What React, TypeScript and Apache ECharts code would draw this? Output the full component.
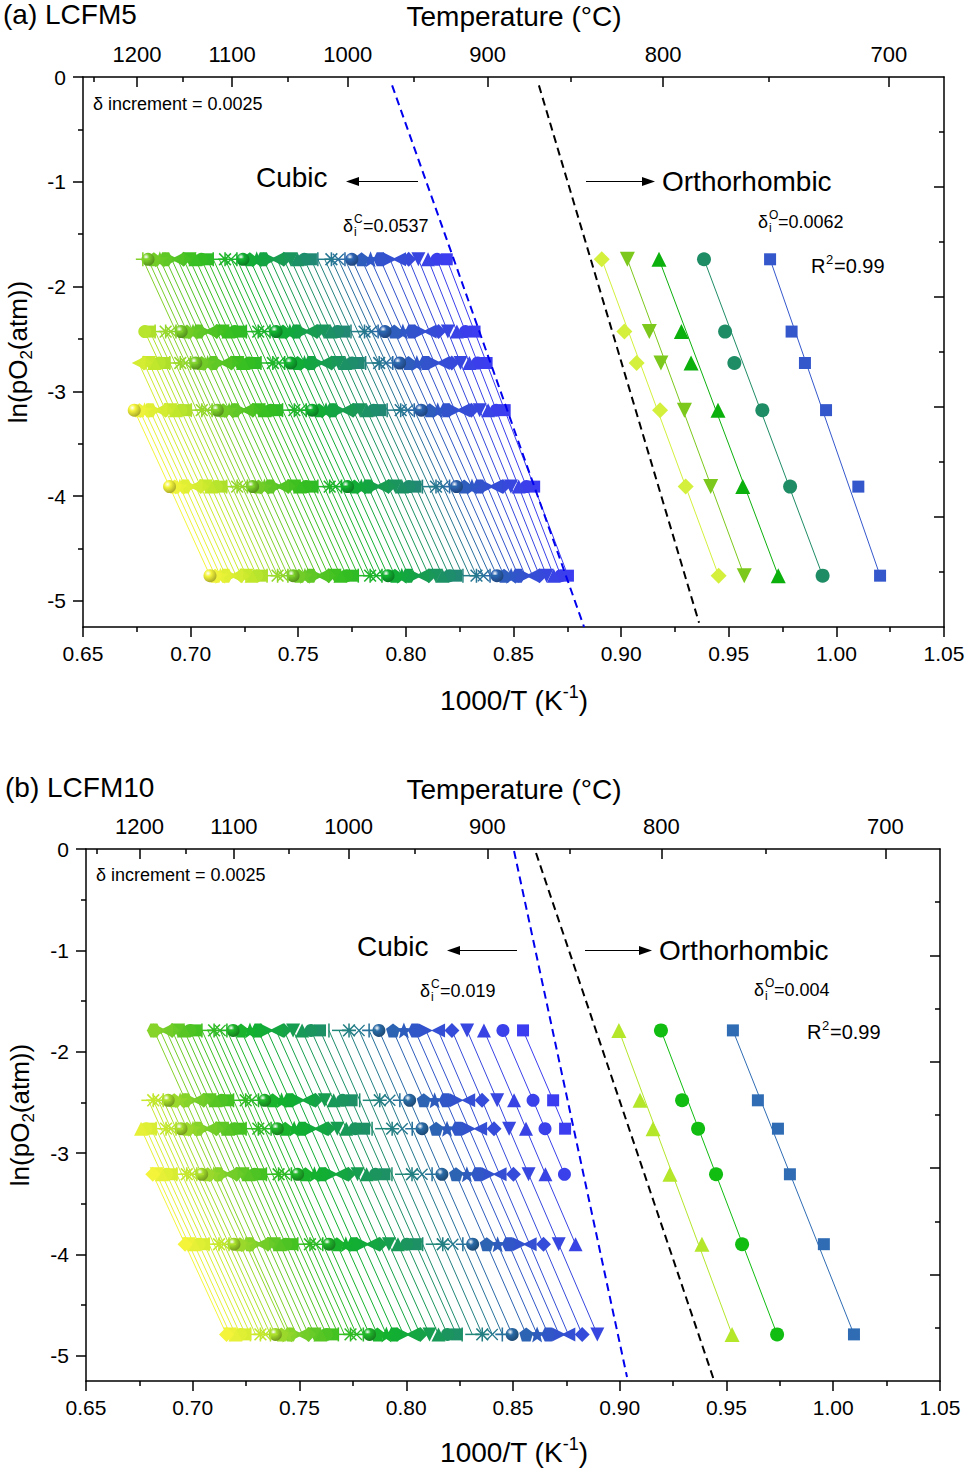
import React, { useEffect, useRef } from 'react';
import * as echarts from 'echarts';

const FONT = '"Liberation Sans", Arial, Helvetica, sans-serif';

// ---------------- Panel (a) LCFM5 ----------------
const lnPO2_A = [-1.74, -2.43, -2.73, -3.18, -3.91, -4.76];
// x (1000/T) of each iso-delta line at each pO2 level (index = line, right->left, delta step 0.0025)
const cubicA_r1 = [0.8190,0.8145,0.8103,0.8058,0.8013,0.7968,0.7926,0.7881,0.7836,0.7794,0.7749,0.7717,0.7686,0.7654,0.7623,0.7591,0.7559,0.7528,0.7496,0.7465,0.7433,0.7401,0.7370,0.7338,0.7307,0.7275,0.7243,0.7215,0.7188,0.7160,0.7133,0.7105,0.7077,0.7050,0.7022,0.6995,0.6967,0.6939,0.6912,0.6884,0.6857,0.6829,0.6802,0.6778];
const cubicA_r2 = [0.8319,0.8277,0.8237,0.8195,0.8152,0.8110,0.8070,0.8028,0.7986,0.7946,0.7903,0.7871,0.7840,0.7808,0.7777,0.7745,0.7713,0.7682,0.7650,0.7619,0.7587,0.7555,0.7524,0.7492,0.7461,0.7429,0.7397,0.7369,0.7342,0.7314,0.7287,0.7259,0.7231,0.7204,0.7176,0.7149,0.7121,0.7093,0.7066,0.7038,0.7011,0.6983,0.6956,0.6932,0.6908,0.6884,0.6860,0.6835,0.6811,0.6787];
const cubicA_r3 = [0.8375,0.8334,0.8295,0.8254,0.8213,0.8172,0.8133,0.8092,0.8051,0.8012,0.7971,0.7939,0.7908,0.7876,0.7845,0.7813,0.7781,0.7750,0.7718,0.7687,0.7655,0.7623,0.7592,0.7560,0.7529,0.7497,0.7465,0.7437,0.7410,0.7382,0.7355,0.7327,0.7299,0.7272,0.7244,0.7217,0.7189,0.7161,0.7134,0.7106,0.7079,0.7051,0.7024,0.7000,0.6976,0.6952,0.6928,0.6903,0.6879,0.6855,0.6831,0.6807,0.6783,0.6759];
const cubicA_r4 = [0.8459,0.8420,0.8382,0.8343,0.8304,0.8265,0.8227,0.8188,0.8148,0.8111,0.8071,0.8039,0.8008,0.7976,0.7945,0.7913,0.7881,0.7850,0.7818,0.7787,0.7755,0.7723,0.7692,0.7660,0.7629,0.7597,0.7565,0.7537,0.7510,0.7482,0.7455,0.7427,0.7399,0.7372,0.7344,0.7317,0.7289,0.7261,0.7234,0.7206,0.7179,0.7151,0.7124,0.7100,0.7076,0.7052,0.7028,0.7003,0.6979,0.6955,0.6931,0.6907,0.6883,0.6859,0.6835,0.6811,0.6786,0.6762,0.6738];
const cubicA_r5 = [0.8596,0.8560,0.8524,0.8488,0.8451,0.8415,0.8379,0.8343,0.8307,0.8271,0.8235,0.8203,0.8172,0.8140,0.8109,0.8077,0.8045,0.8014,0.7982,0.7951,0.7919,0.7887,0.7856,0.7824,0.7793,0.7761,0.7729,0.7701,0.7674,0.7646,0.7619,0.7591,0.7563,0.7536,0.7508,0.7481,0.7453,0.7425,0.7398,0.7370,0.7343,0.7315,0.7288,0.7264,0.7240,0.7216,0.7192,0.7167,0.7143,0.7119,0.7095,0.7071,0.7047,0.7023,0.6999,0.6975,0.6950,0.6926,0.6902];
const cubicA_r6 = [0.8753,0.8720,0.8687,0.8654,0.8621,0.8588,0.8555,0.8522,0.8489,0.8456,0.8423,0.8391,0.8360,0.8328,0.8297,0.8265,0.8233,0.8202,0.8170,0.8139,0.8107,0.8075,0.8044,0.8012,0.7981,0.7949,0.7917,0.7889,0.7862,0.7834,0.7807,0.7779,0.7751,0.7724,0.7696,0.7669,0.7641,0.7613,0.7586,0.7558,0.7531,0.7503,0.7476,0.7452,0.7428,0.7404,0.7380,0.7355,0.7331,0.7307,0.7283,0.7259,0.7235,0.7211,0.7187,0.7163,0.7138,0.7114,0.7090];
const orthoA_diamond = [0.8910, 0.9015, 0.9072, 0.9181, 0.9300, 0.9453];
const orthoA_down = [0.9029, 0.9131, 0.9185, 0.9294, 0.9416, 0.9572];
const orthoA_up = [0.9176, 0.9280, 0.9325, 0.9450, 0.9565, 0.9730];
const orthoA_circle = [0.9385, 0.9483, 0.9526, 0.9656, 0.9785, 0.9936];
const orthoA_square = [0.9692, 0.9792, 0.9854, 0.9952, 1.0102, 1.0203];
const boundaryA_cubic = [[0.7936, -0.08], [0.8828, -5.25]];
const boundaryA_ortho = [[0.8618, -0.08], [0.9362, -5.21]];

// ---------------- Panel (b) LCFM10 ----------------
const lnPO2_B = [-1.79, -2.48, -2.76, -3.21, -3.90, -4.79];
const cubicB_r1 = [0.8547,0.8453,0.8364,0.8285,0.8214,0.8149,0.8092,0.8041,0.7989,0.7938,0.7872,0.7826,0.7779,0.7732,0.7685,0.7638,0.7596,0.7554,0.7512,0.7470,0.7427,0.7390,0.7348,0.7306,0.7268,0.7226,0.7189,0.7160,0.7128,0.7100,0.7071,0.7043,0.7015,0.6987,0.6959,0.6931,0.6903,0.6875,0.6847,0.6818];
const cubicB_r2 = [0.8688,0.8594,0.8505,0.8426,0.8355,0.8290,0.8236,0.8185,0.8133,0.8082,0.8016,0.7970,0.7923,0.7876,0.7829,0.7782,0.7744,0.7702,0.7660,0.7618,0.7575,0.7538,0.7496,0.7454,0.7416,0.7374,0.7337,0.7308,0.7276,0.7248,0.7219,0.7191,0.7163,0.7135,0.7107,0.7079,0.7051,0.7023,0.6995,0.6966,0.6941,0.6913,0.6885,0.6862,0.6838,0.6815,0.6792];
const cubicB_r3 = [0.8744,0.8650,0.8561,0.8482,0.8411,0.8346,0.8294,0.8243,0.8191,0.8140,0.8074,0.8028,0.7981,0.7934,0.7887,0.7840,0.7803,0.7761,0.7719,0.7677,0.7634,0.7597,0.7555,0.7513,0.7475,0.7433,0.7396,0.7367,0.7335,0.7307,0.7278,0.7250,0.7222,0.7194,0.7166,0.7138,0.7110,0.7082,0.7054,0.7025,0.7001,0.6973,0.6945,0.6922,0.6898,0.6875,0.6852,0.6828,0.6805,0.6781,0.6758];
const cubicB_r4 = [null,0.8741,0.8652,0.8573,0.8502,0.8437,0.8387,0.8336,0.8284,0.8233,0.8167,0.8121,0.8074,0.8027,0.7980,0.7933,0.7898,0.7856,0.7814,0.7772,0.7729,0.7692,0.7650,0.7608,0.7570,0.7528,0.7491,0.7462,0.7430,0.7402,0.7373,0.7345,0.7317,0.7289,0.7261,0.7233,0.7205,0.7177,0.7149,0.7120,0.7098,0.7070,0.7042,0.7019,0.6995,0.6972,0.6949,0.6925,0.6902,0.6878,0.6855,0.6831,0.6813];
const cubicB_r5 = [null,null,0.8793,0.8714,0.8643,0.8578,0.8531,0.8480,0.8428,0.8377,0.8311,0.8265,0.8218,0.8171,0.8124,0.8077,0.8045,0.8003,0.7961,0.7919,0.7876,0.7839,0.7797,0.7755,0.7717,0.7675,0.7638,0.7609,0.7577,0.7549,0.7520,0.7492,0.7464,0.7436,0.7408,0.7380,0.7352,0.7324,0.7296,0.7267,0.7249,0.7221,0.7193,0.7170,0.7146,0.7123,0.7100,0.7076,0.7053,0.7029,0.7006,0.6982,0.6964];
const cubicB_r6 = [null,null,null,0.8895,0.8824,0.8759,0.8716,0.8665,0.8613,0.8562,0.8496,0.8450,0.8403,0.8356,0.8309,0.8262,0.8235,0.8193,0.8151,0.8109,0.8066,0.8029,0.7987,0.7945,0.7907,0.7865,0.7828,0.7799,0.7767,0.7739,0.7710,0.7682,0.7654,0.7626,0.7598,0.7570,0.7542,0.7514,0.7486,0.7457,0.7443,0.7415,0.7387,0.7364,0.7340,0.7317,0.7294,0.7270,0.7247,0.7223,0.7200,0.7176,0.7158];
const orthoB_up = [0.8996, 0.9095, 0.9156, 0.9235, 0.9385, 0.9526];
const orthoB_circle = [0.9193, 0.9292, 0.9367, 0.9451, 0.9573, 0.9737];
const orthoB_square = [0.9530, 0.9647, 0.9741, 0.9797, 0.9956, 1.0097];
const boundaryB_cubic = [[0.8505, -0.02], [0.9034, -5.21]];
const boundaryB_ortho = [[0.8608, -0.04], [0.9441, -5.24]];

// ---------------- axes ----------------
const tempLabels = ['1200', '1100', '1000', '900', '800', '700'];
const tempMajorPos = [0.6751, 0.7193, 0.7730, 0.8380, 0.9195, 1.0244];
const tempMinorPos = [0.6552, 0.6965, 0.7450, 0.8038, 0.8765, 0.9686];
const yMajor = [0, -1, -2, -3, -4, -5];
const yMinor = [-0.5, -1.5, -2.5, -3.5, -4.5];
const yRightMajor = [-1.05, -2.1, -3.15, -4.2];
const yRightMinor = [-0.525, -1.575, -2.625, -3.675, -4.725];

const STOPS: [number, string][] = [
  [0, '#3c3cf0'], [0.14, '#3057c6'], [0.28, '#1f8a70'], [0.45, '#10b030'],
  [0.6, '#3cc020'], [0.73, '#7ccf2a'], [0.87, '#c4e82c'], [1, '#f4f43a'],
];
function hexToRgb(h: string) {
  const n = parseInt(h.slice(1), 16);
  return [(n >> 16) & 255, (n >> 8) & 255, n & 255];
}
function toHex(r: number[]) {
  return '#' + r.map((v) => Math.round(v).toString(16).padStart(2, '0')).join('');
}
function lerpColor(t: number) {
  for (let k = 0; k < STOPS.length - 1; k++) {
    const [t0, c0] = STOPS[k];
    const [t1, c1] = STOPS[k + 1];
    if (t <= t1) {
      const f = (t - t0) / (t1 - t0);
      const a = hexToRgb(c0), b = hexToRgb(c1);
      return toHex([a[0] + (b[0] - a[0]) * f, a[1] + (b[1] - a[1]) * f, a[2] + (b[2] - a[2]) * f]);
    }
  }
  return STOPS[STOPS.length - 1][1];
}
function darken(c: string, f: number) {
  const a = hexToRgb(c);
  return toHex(a.map((v) => v * f));
}

const P_DOWN = 'path://M0,0L10,0L5,10Z';
const P_LEFT = 'path://M0,5L10,0L10,10Z';
const P_RIGHT = 'path://M10,5L0,0L0,10Z';
const P_HEX = 'path://M2.5,0.7L7.5,0.7L10,5L7.5,9.3L2.5,9.3L0,5Z';
const P_STAR = 'path://M5,0L6.29,3.22L9.76,3.45L7.09,5.68L7.94,9.05L5,7.2L2.06,9.05L2.91,5.68L0.24,3.45L3.71,3.22Z';
const P_PENT = 'path://M5,0L10,3.6L8.1,9.5L1.9,9.5L0,3.6Z';
const P_PLUS = 'path://M4.45,0H5.55V4.45H10V5.55H5.55V10H4.45V5.55H0V4.45H4.45Z';
const P_CROSS = 'path://M0.8,0L5,4.2L9.2,0L10,0.8L5.8,5L10,9.2L9.2,10L5,5.8L0.8,10L0,9.2L4.2,5L0,0.8Z';
const P_AST = 'path://M4.45,0H5.55V10H4.45Z M0,4.45H10V5.55H0Z M1.2,0.4L9.6,8.8L8.8,9.6L0.4,1.2Z M8.8,0.4L9.6,1.2L1.2,9.6L0.4,8.8Z';
const P_HBAR = 'path://M0,0H10V1H0Z';
const P_VBAR = 'path://M0,0H1V10H0Z';

const SYM: { symbol: string; size: number | number[]; sphere?: boolean }[] = [
  { symbol: 'rect', size: 12 },
  { symbol: 'circle', size: 13 },
  { symbol: 'triangle', size: 14 },
  { symbol: P_DOWN, size: 14 },
  { symbol: 'diamond', size: 15 },
  { symbol: P_LEFT, size: 14 },
  { symbol: P_RIGHT, size: 14 },
  { symbol: P_HEX, size: 14 },
  { symbol: P_STAR, size: 16 },
  { symbol: P_PENT, size: 14 },
  { symbol: 'circle', size: 13, sphere: true },
  { symbol: P_PLUS, size: 14 },
  { symbol: P_CROSS, size: 12 },
  { symbol: P_AST, size: 14 },
  { symbol: P_HBAR, size: [14, 1.5] },
  { symbol: P_VBAR, size: [1.5, 14] },
];

function cubicSeries(rows: (number | null)[][], lnp: number[], xi: number, yi: number) {
  const n = Math.max(...rows.map((r) => r.length));
  const out: any[] = [];
  for (let i = 0; i < n; i++) {
    const pts: number[][] = [];
    rows.forEach((r, k) => {
      const v = r[i];
      if (v !== null && v !== undefined) pts.push([v, lnp[k]]);
    });
    const c = lerpColor(i / (n - 1));
    const s = SYM[i % 16];
    const fill = s.sphere
      ? { type: 'radial', x: 0.35, y: 0.32, r: 0.7, colorStops: [{ offset: 0, color: '#ffffff' }, { offset: 0.35, color: c }, { offset: 1, color: darken(c, 0.7) }] }
      : c;
    out.push({
      type: 'line', xAxisIndex: xi, yAxisIndex: yi, data: pts,
      symbol: s.symbol, symbolSize: s.size, showSymbol: true, silent: true,
      lineStyle: { color: c, width: 1 }, itemStyle: { color: fill }, z: 3,
    });
  }
  return out;
}

function orthoSeries(xs: number[], lnp: number[], xi: number, yi: number, symbol: string, size: number, color: string) {
  const pts = xs.map((v, k) => [v, lnp[k]]);
  return [
    {
      type: 'line', xAxisIndex: xi, yAxisIndex: yi, silent: true,
      data: [pts[0], pts[pts.length - 1]], symbol: 'none',
      lineStyle: { color, width: 1 }, z: 4,
    },
    {
      type: 'scatter', xAxisIndex: xi, yAxisIndex: yi, silent: true,
      data: pts, symbol, symbolSize: size, itemStyle: { color, opacity: 1 }, z: 4,
    },
  ];
}

function dashed(pts: number[][], xi: number, yi: number, color: string) {
  return {
    type: 'line', xAxisIndex: xi, yAxisIndex: yi, silent: true, data: pts, symbol: 'none',
    lineStyle: { color, width: 2, type: [8, 5] }, z: 5,
  };
}

const AX = { color: '#000', width: 1.5 };

function xAxes(g: number) {
  return [
    {
      gridIndex: g, type: 'value', position: 'bottom', min: 0.65, max: 1.05, interval: 0.05,
      axisLine: { show: true, onZero: false, lineStyle: AX },
      axisTick: { show: true, inside: false, length: 10, lineStyle: AX },
      minorTick: { show: true, splitNumber: 2, length: 5, lineStyle: AX },
      axisLabel: { show: true, margin: 16, fontSize: 21, color: '#000', fontFamily: FONT, formatter: (v: number) => v.toFixed(2) },
      splitLine: { show: false }, minorSplitLine: { show: false },
    },
    {
      gridIndex: g, type: 'value', position: 'top', min: 0.65, max: 1.05,
      axisLine: { show: true, onZero: false, lineStyle: AX },
      axisTick: { show: true, inside: true, length: 10, lineStyle: AX, customValues: tempMajorPos },
      axisLabel: {
        show: true, margin: 12, fontSize: 22, color: '#000', fontFamily: FONT, customValues: tempMajorPos,
        formatter: (v: number) => {
          let best = 0;
          tempMajorPos.forEach((p, k) => { if (Math.abs(p - v) < Math.abs(tempMajorPos[best] - v)) best = k; });
          return tempLabels[best];
        },
      },
      splitLine: { show: false },
    },
    {
      gridIndex: g, type: 'value', position: 'top', min: 0.65, max: 1.05,
      axisLine: { show: false, onZero: false },
      axisTick: { show: true, inside: true, length: 5, lineStyle: AX, customValues: tempMinorPos },
      axisLabel: { show: false },
      splitLine: { show: false },
    },
  ];
}

function yAxes(g: number) {
  return [
    {
      gridIndex: g, type: 'value', position: 'left', min: -5.25, max: 0,
      axisLine: { show: true, onZero: false, lineStyle: AX },
      axisTick: { show: true, inside: false, length: 10, lineStyle: AX, customValues: yMajor },
      axisLabel: { show: true, margin: 17, fontSize: 21, color: '#000', fontFamily: FONT, customValues: yMajor, formatter: (v: number) => String(v) },
      splitLine: { show: false },
    },
    {
      gridIndex: g, type: 'value', position: 'left', min: -5.25, max: 0,
      axisLine: { show: false, onZero: false },
      axisTick: { show: true, inside: false, length: 5, lineStyle: AX, customValues: yMinor },
      axisLabel: { show: false }, splitLine: { show: false },
    },
    {
      gridIndex: g, type: 'value', position: 'right', min: -5.25, max: 0,
      axisLine: { show: true, onZero: false, lineStyle: AX },
      axisTick: { show: true, inside: true, length: 10, lineStyle: AX, customValues: yRightMajor },
      axisLabel: { show: false }, splitLine: { show: false },
    },
    {
      gridIndex: g, type: 'value', position: 'right', min: -5.25, max: 0,
      axisLine: { show: false, onZero: false },
      axisTick: { show: true, inside: true, length: 5, lineStyle: AX, customValues: yRightMinor },
      axisLabel: { show: false }, splitLine: { show: false },
    },
  ];
}

function txt(x: number, y: number, text: string, size: number, align = 'left') {
  return {
    type: 'text', x, y, z: 100, silent: true,
    style: { text, fill: '#000', fontSize: size, fontFamily: FONT, align, verticalAlign: 'middle', textAlign: align, textVerticalAlign: 'middle' },
  };
}
function richTxt(x: number, y: number, text: string, rich: any, rotation = 0) {
  return {
    type: 'text', x, y, rotation, z: 100, silent: true,
    style: { text, rich, fill: '#000', fontFamily: FONT, align: 'center', verticalAlign: 'middle', textAlign: 'center', textVerticalAlign: 'middle' },
  };
}
function arrow(x1: number, x2: number, y: number) {
  const dir = x2 > x1 ? 1 : -1;
  const base = x2 - dir * 13;
  return [
    { type: 'line', z: 100, silent: true, shape: { x1, y1: y, x2: base, y2: y }, style: { stroke: '#000', lineWidth: 1.2 } },
    { type: 'polygon', z: 100, silent: true, shape: { points: [[x2, y], [base, y - 4.5], [base, y + 4.5]] }, style: { fill: '#000' } },
  ];
}
function deltaLabel(x: number, y: number, sup: string, val: string) {
  return [
    txt(x, y, 'δ', 18),
    txt(x + 11, y - 7, sup, 12),
    txt(x + 11, y + 6, 'i', 12),
    txt(x + 20, y, val, 18),
  ];
}
function r2Label(x: number, y: number) {
  return [txt(x, y, 'R', 20), txt(x + 15, y - 7, '2', 13), txt(x + 23, y, '=0.99', 20)];
}
const yRich = {
  a: { fontSize: 26, lineHeight: 34, fontFamily: FONT, fill: '#000' },
  s: { fontSize: 17, lineHeight: 18, verticalAlign: 'bottom', fontFamily: FONT, fill: '#000' },
};
const xRich = {
  a: { fontSize: 28, lineHeight: 34, fontFamily: FONT, fill: '#000' },
  p: { fontSize: 18, lineHeight: 18, verticalAlign: 'top', fontFamily: FONT, fill: '#000' },
};

export default function App() {
  const ref = useRef<HTMLDivElement>(null);
  useEffect(() => {
    document.body.style.margin = '0';
    if (!ref.current) return;
    const chart = echarts.init(ref.current, undefined, { renderer: 'svg' });
    const series: any[] = [
      ...cubicSeries([cubicA_r1, cubicA_r2, cubicA_r3, cubicA_r4, cubicA_r5, cubicA_r6], lnPO2_A, 0, 0),
      ...orthoSeries(orthoA_diamond, lnPO2_A, 0, 0, 'diamond', 16, '#d4f03c'),
      ...orthoSeries(orthoA_down, lnPO2_A, 0, 0, P_DOWN, 15, '#7cc81c'),
      ...orthoSeries(orthoA_up, lnPO2_A, 0, 0, 'triangle', 15, '#0cb00c'),
      ...orthoSeries(orthoA_circle, lnPO2_A, 0, 0, 'circle', 14, '#1e8c64'),
      ...orthoSeries(orthoA_square, lnPO2_A, 0, 0, 'rect', 12, '#3457cc'),
      dashed(boundaryA_cubic, 0, 0, '#0000ee'),
      dashed(boundaryA_ortho, 0, 0, '#000000'),
      ...cubicSeries([cubicB_r1, cubicB_r2, cubicB_r3, cubicB_r4, cubicB_r5, cubicB_r6], lnPO2_B, 3, 4),
      ...orthoSeries(orthoB_up, lnPO2_B, 3, 4, 'triangle', 15, '#b4e62a'),
      ...orthoSeries(orthoB_circle, lnPO2_B, 3, 4, 'circle', 14, '#10bd10'),
      ...orthoSeries(orthoB_square, lnPO2_B, 3, 4, 'rect', 12, '#2f6cb4'),
      dashed(boundaryB_cubic, 3, 4, '#0000ee'),
      dashed(boundaryB_ortho, 3, 4, '#000000'),
    ];
    const graphic: any[] = [
      txt(3, 14, '(a) LCFM5', 28),
      txt(514, 16, 'Temperature (°C)', 28, 'center'),
      txt(93, 104, 'δ increment = 0.0025', 18),
      txt(256, 177, 'Cubic', 28),
      txt(662, 181, 'Orthorhombic', 28),
      ...arrow(418, 346, 181.5),
      ...arrow(586, 655, 181.5),
      ...deltaLabel(343, 226, 'C', '=0.0537'),
      ...deltaLabel(758, 222, 'O', '=0.0062'),
      ...r2Label(811, 266),
      richTxt(18, 352, '{a|ln(pO}{s|2}{a|(atm))}', yRich, Math.PI / 2),
      richTxt(514, 700, '{a|1000/T (K}{p|-1}{a|)}', xRich),

      txt(5, 787, '(b) LCFM10', 28),
      txt(514, 789, 'Temperature (°C)', 28, 'center'),
      txt(96, 875, 'δ increment = 0.0025', 18),
      txt(357, 946, 'Cubic', 28),
      txt(659, 950, 'Orthorhombic', 28),
      ...arrow(517, 447, 950.5),
      ...arrow(585, 652, 950.5),
      ...deltaLabel(420, 991, 'C', '=0.019'),
      ...deltaLabel(754, 990, 'O', '=0.004'),
      ...r2Label(807, 1032),
      richTxt(20, 1115, '{a|ln(pO}{s|2}{a|(atm))}', yRich, Math.PI / 2),
      richTxt(514, 1452, '{a|1000/T (K}{p|-1}{a|)}', xRich),
    ];
    chart.setOption({
      animation: false,
      backgroundColor: '#ffffff',
      textStyle: { fontFamily: FONT },
      grid: [
        { left: 83, top: 77, width: 861, height: 550, containLabel: false, outerBoundsMode: 'none' },
        { left: 86, top: 849, width: 854, height: 532, containLabel: false, outerBoundsMode: 'none' },
      ],
      xAxis: [...xAxes(0), ...xAxes(1)],
      yAxis: [...yAxes(0), ...yAxes(1)],
      series,
      graphic,
    });
    return () => chart.dispose();
  }, []);
  return <div ref={ref} style={{ width: 969, height: 1470 }} />;
}
